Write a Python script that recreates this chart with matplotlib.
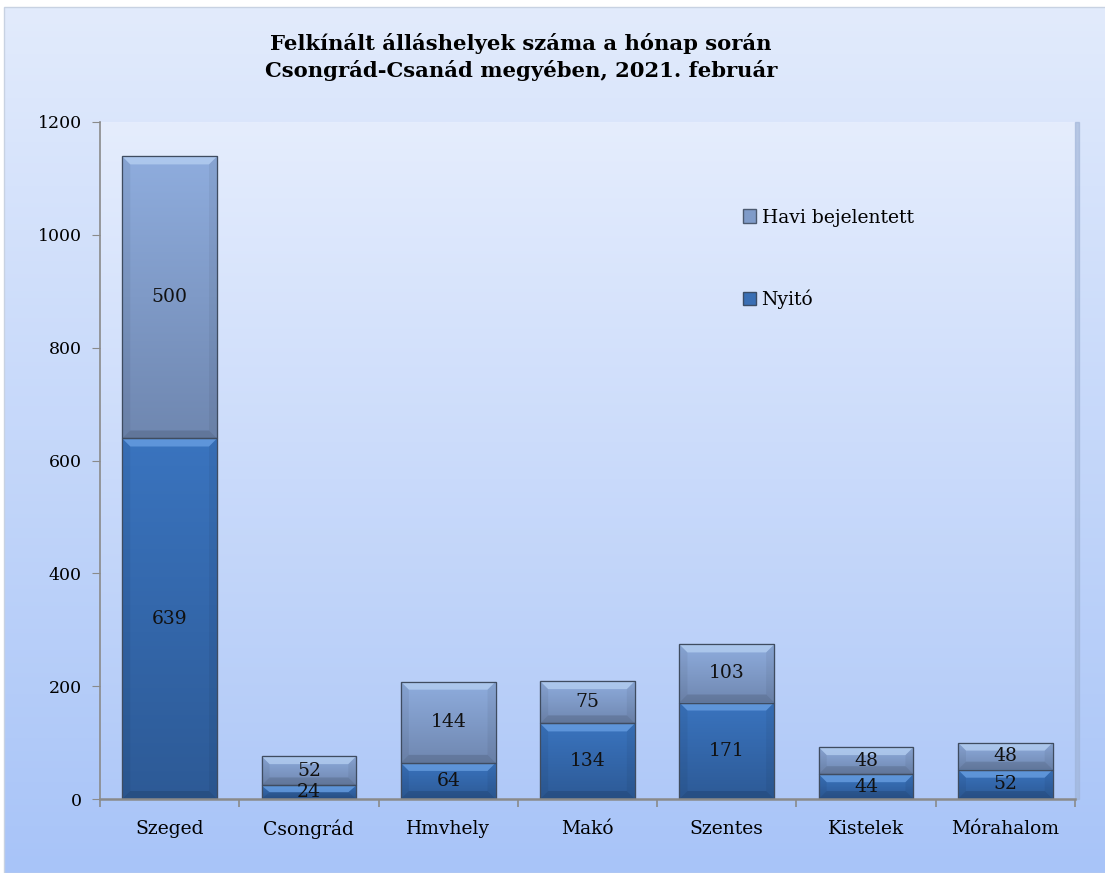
import matplotlib
matplotlib.use('Agg')
import matplotlib.pyplot as plt
import numpy as np
from matplotlib.patches import Polygon, Patch, Rectangle
from matplotlib.colors import LinearSegmentedColormap

# adatok
telepulesek = ["Szeged", "Csongrád", "Hmvhely", "Makó", "Szentes", "Kistelek", "Mórahalom"]
nyito = [639, 24, 64, 134, 171, 44, 52]
havi = [500, 52, 144, 75, 103, 48, 48]
cim = "Felkínált álláshelyek száma a hónap során\nCsongrád-Csanád megyében, 2021. február"
y_tickek = [0, 200, 400, 600, 800, 1000, 1200]

plt.rcParams['font.family'] = ['DejaVu Serif']

W, H = 1105, 873
fig = plt.figure(figsize=(W / 100, H / 100), dpi=100)
fig.patch.set_facecolor('white')

# háttér színátmenet
bg = fig.add_axes([0, 0, 1, 1], zorder=-5)
bg.set_xlim(0, 1)
bg.set_ylim(0, 1)
bg.axis('off')
bg_cmap = LinearSegmentedColormap.from_list('bg', ['#a8c4f8', '#e2ebfc'])
grad = np.linspace(0, 1, 256).reshape(-1, 1)
bg.imshow(grad, cmap=bg_cmap, aspect='auto', origin='lower',
          extent=[4 / W, 1, 0, 1 - 7 / H])
bg.add_patch(Rectangle((4 / W, 0), 1, 1 - 7 / H, fill=False, edgecolor='#c8d2e2', lw=1))

ax = fig.add_axes([100 / W, 1 - 799 / H, 975 / W, 677 / H])
ax.set_xlim(-0.5, len(telepulesek) - 0.5)
ax.set_ylim(0, 1200)
ax.patch.set_alpha(0)

# rajzterület színátmenet + árnyék
pa_cmap = LinearSegmentedColormap.from_list('pa', ['#b0c9f8', '#e5edfd'])
ax.imshow(grad, cmap=pa_cmap, aspect='auto', origin='lower',
          extent=[-0.5, len(telepulesek) - 0.5, 0, 1200], zorder=0)
ax.add_patch(Rectangle((1.0, 0), 0.004, 1.0, transform=ax.transAxes,
                       color='#9fb3d6', alpha=0.6, clip_on=False, zorder=0.5))

x = np.arange(len(telepulesek))
szel = 0.68
b1 = ax.bar(x, nyito, szel, color='#3569b0', edgecolor='#3b4d66', lw=0.8, zorder=2)
b2 = ax.bar(x, havi, szel, bottom=nyito, color='#7f9bc9', edgecolor='#4c5a70', lw=0.8, zorder=2)

px_x = 975 / len(telepulesek)
px_y = 677 / 1200
bx, by = 8 / px_x, 8 / px_y


def dombor(bars, c_top, c_bot, c_hl):
    cm = LinearSegmentedColormap.from_list('b', [c_bot, c_top])
    for r in bars:
        x0, y0 = r.get_x(), r.get_y()
        w, h = r.get_width(), r.get_height()
        im = ax.imshow(grad, cmap=cm, aspect='auto', origin='lower',
                       extent=[x0, x0 + w, y0, y0 + h], zorder=2.1)
        im.set_clip_path(r)
        b_y = min(by, h / 2)
        b_x = bx
        # felső fény
        ax.add_patch(Polygon([(x0, y0 + h), (x0 + w, y0 + h), (x0 + w - b_x, y0 + h - b_y),
                              (x0 + b_x, y0 + h - b_y)], closed=True, color=c_hl,
                             alpha=0.7, lw=0, zorder=2.2))
        # alsó árnyék
        ax.add_patch(Polygon([(x0, y0), (x0 + w, y0), (x0 + w - b_x, y0 + b_y),
                              (x0 + b_x, y0 + b_y)], closed=True, color='black',
                             alpha=0.12, lw=0, zorder=2.2))
        # oldalak
        for sx, ix in ((x0, x0 + b_x), (x0 + w, x0 + w - b_x)):
            ax.add_patch(Polygon([(sx, y0), (sx, y0 + h), (ix, y0 + h - b_y), (ix, y0 + b_y)],
                                 closed=True, color='black', alpha=0.05, lw=0, zorder=2.2))
        ax.add_patch(Rectangle((x0, y0), w, h, fill=False, edgecolor='#3f4c60', lw=0.9, zorder=2.3))


dombor(b1, '#3a74bf', '#2d5a96', '#6ea4e6')
dombor(b2, '#8fadde', '#6f87b0', '#b9d3f4')

# címkék
for bars, vals in ((b1, nyito), (b2, havi)):
    for r, v in zip(bars, vals):
        ax.text(r.get_x() + r.get_width() / 2, r.get_y() + r.get_height() / 2, str(v),
                ha='center', va='center', fontsize=13.5, color='#111111', zorder=3)

# tengelyek
for s in ('top', 'right'):
    ax.spines[s].set_visible(False)
ax.spines['left'].set_color('#8a8a8a')
ax.spines['bottom'].set_color('#8a8a8a')
ax.spines['bottom'].set_linewidth(1.8)
ax.spines['left'].set_linewidth(1.2)
ax.set_yticks(y_tickek)
ax.set_yticklabels([str(t) for t in y_tickek], fontsize=12.5)
ax.tick_params(axis='y', direction='out', length=6, color='#8a8a8a', pad=7)
ax.set_xticks(x)
ax.set_xticklabels(telepulesek, fontsize=13.5)
ax.tick_params(axis='x', length=0, pad=15)
ax.set_xticks(np.arange(-0.5, len(telepulesek), 1), minor=True)
ax.tick_params(axis='x', which='minor', direction='out', length=6, color='#8a8a8a', width=1.2)

# cím
fig.text(521 / W, 1 - 57 / H, cim, ha='center', va='center', fontsize=15.2,
         fontweight='bold', linespacing=1.35)

# jelmagyarázat
leg = ax.legend(handles=[Patch(facecolor='#7f9bc9', edgecolor='#4c5a70', label='Havi bejelentett'),
                         Patch(facecolor='#3a6fb4', edgecolor='#3b4d66', label='Nyitó')],
                loc='upper left', bbox_to_anchor=(0.642, 0.897), frameon=False,
                fontsize=13.5, handlelength=0.7, handleheight=0.7, handletextpad=0.3,
                labelspacing=3.35)

fig.savefig('out.png', dpi=100)
